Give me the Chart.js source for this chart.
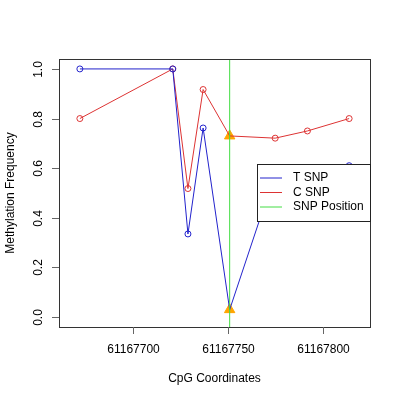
<!DOCTYPE html>
<html>
<head>
<meta charset="utf-8">
<script src="https://cdn.jsdelivr.net/npm/chart.js@4"></script>
<style>
  body { margin: 0; background: #fff; }
  canvas { display: block; }
</style>
</head>
<body>
<canvas id="chart" width="400" height="400"></canvas>
<script>
// CpG positions and methylation values
const positions = [61167672, 61167721, 61167729, 61167737, 61167751, 61167775, 61167792, 61167814];
const tSnp = [1.0, 1.0, 0.335, 0.762, 0.03, 0.58, 0.57, 0.61];
const cSnp = [0.8, 1.0, 0.518, 0.917, 0.73, 0.721, 0.75, 0.8];
const snpPosition = 61167751;
const snpIndex = 4;

const xTicks = [61167700, 61167750, 61167800];
const yTicks = [0, 0.2, 0.4, 0.6, 0.8, 1.0];
const yTickLabels = ['0.0', '0.2', '0.4', '0.6', '0.8', '1.0'];

const legendItems = [
    { label: 'T SNP', color: '#2222cc' },
    { label: 'C SNP', color: '#dd3333' },
    { label: 'SNP Position', color: '#44dd44' }
];

const FONT = '12px "Liberation Sans", Arial, sans-serif';

// Build {x, y} points for a series
function toPoints(values) {
    return positions.map((p, i) => ({ x: p, y: values[i] }));
}

// Hide the circle at the SNP position (a triangle is drawn there instead)
const radii = positions.map((p, i) => (i === snpIndex ? 0 : 3));

// Draw frame, axes, labels and legend the way R does
const axesPlugin = {
    id: 'rAxes',
    afterDraw(chart) {
        const ctx = chart.ctx;
        const area = chart.chartArea;
        const xs = chart.scales.x;
        const ys = chart.scales.y;

        ctx.save();
        ctx.strokeStyle = '#333';
        ctx.lineWidth = 1;
        ctx.strokeRect(area.left + 0.5, area.top + 0.5, area.right - area.left, area.bottom - area.top);

        ctx.fillStyle = '#000';
        ctx.font = FONT;

        // x axis ticks
        ctx.strokeStyle = '#666';
        ctx.textAlign = 'center';
        ctx.textBaseline = 'middle';
        xTicks.forEach(t => {
            const px = Math.round(xs.getPixelForValue(t)) + 0.5;
            ctx.beginPath();
            ctx.moveTo(px, area.bottom);
            ctx.lineTo(px, area.bottom + 7);
            ctx.stroke();
            ctx.fillText(String(t), px, 350);
        });

        // y axis ticks, labels rotated
        yTicks.forEach((t, i) => {
            const py = Math.round(ys.getPixelForValue(t)) + 0.5;
            ctx.beginPath();
            ctx.moveTo(area.left - 7, py);
            ctx.lineTo(area.left, py);
            ctx.stroke();
            ctx.save();
            ctx.translate(39, py);
            ctx.rotate(-Math.PI / 2);
            ctx.fillText(yTickLabels[i], 0, 0);
            ctx.restore();
        });

        // axis titles
        ctx.fillText('CpG Coordinates', (area.left + area.right) / 2, 379);
        ctx.save();
        ctx.translate(11, (area.top + area.bottom) / 2);
        ctx.rotate(-Math.PI / 2);
        ctx.fillText('Methylation Frequency', 0, 0);
        ctx.restore();

        // legend box
        const lx = 257, ly = 164, lw = 113, lh = 57;
        ctx.fillStyle = '#fff';
        ctx.fillRect(lx, ly, lw, lh);
        ctx.strokeStyle = '#222';
        ctx.strokeRect(lx + 0.5, ly + 0.5, lw, lh);
        ctx.textAlign = 'left';
        legendItems.forEach((item, i) => {
            const yy = 178 + i * 14.5;
            ctx.strokeStyle = item.color;
            ctx.beginPath();
            ctx.moveTo(260, yy);
            ctx.lineTo(282, yy);
            ctx.stroke();
            ctx.fillStyle = '#000';
            ctx.fillText(item.label, 293, yy);
        });
        ctx.restore();
    }
};

const ctx = document.getElementById('chart').getContext('2d');
new Chart(ctx, {
    type: 'line',
    data: {
        datasets: [
            {
                label: 'SNP Position',
                data: [{ x: snpPosition, y: -1 }, { x: snpPosition, y: 2 }],
                borderColor: '#44dd44',
                borderWidth: 1,
                pointRadius: 0
            },
            {
                label: 'T SNP',
                data: toPoints(tSnp),
                borderColor: '#2222cc',
                borderWidth: 1,
                pointRadius: radii,
                pointBorderColor: '#2222cc',
                pointBackgroundColor: 'rgba(0,0,0,0)',
                pointBorderWidth: 1,
                tension: 0
            },
            {
                label: 'C SNP',
                data: toPoints(cSnp),
                borderColor: '#dd3333',
                borderWidth: 1,
                pointRadius: radii,
                pointBorderColor: '#dd3333',
                pointBackgroundColor: 'rgba(0,0,0,0)',
                pointBorderWidth: 1,
                tension: 0
            },
            {
                label: 'SNP markers',
                data: [
                    { x: snpPosition, y: tSnp[snpIndex] },
                    { x: snpPosition, y: cSnp[snpIndex] }
                ],
                showLine: false,
                pointStyle: 'triangle',
                pointRadius: 6,
                pointBackgroundColor: '#ffa500',
                pointBorderColor: '#ffa500',
                pointBorderWidth: 1
            }
        ]
    },
    options: {
        responsive: false,
        animation: false,
        devicePixelRatio: 1,
        layout: {
            padding: { left: 59, top: 59, right: 30, bottom: 73 }
        },
        plugins: {
            legend: { display: false },
            tooltip: { enabled: false }
        },
        scales: {
            x: {
                type: 'linear',
                display: false,
                min: 61167661,
                max: 61167825
            },
            y: {
                type: 'linear',
                display: false,
                min: -0.04,
                max: 1.04
            }
        }
    },
    plugins: [axesPlugin]
});
</script>
</body>
</html>
